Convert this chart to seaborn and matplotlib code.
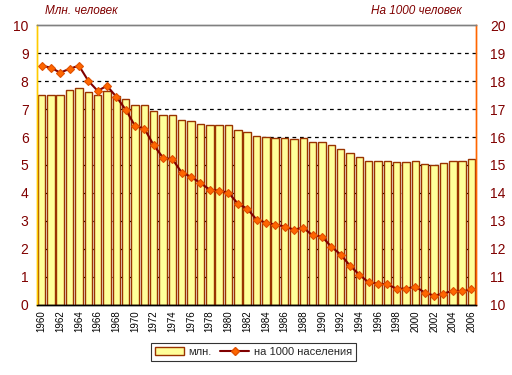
import numpy as np
import pandas as pd
import seaborn as sns
import matplotlib.pyplot as plt
from matplotlib.patches import Patch
from matplotlib.lines import Line2D

# Data
years = list(range(1960, 2007))
mln = [7.49, 7.52, 7.52, 7.67, 7.77, 7.60, 7.49, 7.63, 7.45, 7.35,
       7.13, 7.13, 6.92, 6.77, 6.77, 6.60, 6.56, 6.45, 6.42, 6.42,
       6.42, 6.24, 6.17, 6.03, 6.00, 5.96, 5.96, 5.92, 5.96, 5.84,
       5.84, 5.70, 5.56, 5.42, 5.27, 5.13, 5.13, 5.13, 5.10, 5.10,
       5.13, 5.02, 4.99, 5.06, 5.13, 5.13, 5.20]
per1000 = [18.55, 18.48, 18.30, 18.44, 18.55, 18.01, 17.65, 17.83, 17.44, 16.98,
           16.40, 16.30, 15.71, 15.26, 15.21, 14.73, 14.58, 14.35, 14.12, 14.08,
           14.01, 13.62, 13.44, 13.05, 12.94, 12.87, 12.80, 12.69, 12.76, 12.48,
           12.44, 12.08, 11.80, 11.40, 11.08, 10.80, 10.76, 10.73, 10.58, 10.58,
           10.65, 10.44, 10.33, 10.40, 10.51, 10.48, 10.55]

df = pd.DataFrame({"year": years, "mln": mln, "per1000": per1000})

sns.set_style("white")
plt.rcParams['font.family'] = ['Liberation Sans', 'DejaVu Sans']

dark_red = "#800000"
bar_fill = "#FFFF99"
bar_edge = "#993300"

fig = plt.figure(figsize=(5.12, 3.75), dpi=100)
ax = fig.add_axes([0.072, 0.187, 0.858, 0.746])

# dashed gridlines behind bars
for v in range(1, 10):
    ax.axhline(v, color="black", linestyle=(0, (3, 3)), linewidth=0.9, zorder=0)

sns.barplot(data=df, x="year", y="mln", ax=ax, color=bar_fill, saturation=1,
            edgecolor=bar_edge, linewidth=1.0, width=0.8, zorder=2)
ax.set_ylim(0, 10)
ax.set_xlim(-0.5, len(years) - 0.5)
ax.set_yticks(range(0, 11))
ax.set_xlabel("")
ax.set_ylabel("")
ax.tick_params(axis="y", colors=dark_red, labelsize=10, length=0, pad=6)
ax.set_xticks(range(0, len(years), 2))
ax.set_xticklabels([str(y) for y in years[::2]], rotation=90, fontsize=7, color="black")
ax.tick_params(axis="x", length=0, pad=4)

ax2 = ax.twinx()
sns.pointplot(data=df, x="year", y="per1000", ax=ax2, color=dark_red,
              markers="D", linewidth=1.5, markersize=4.2,
              markerfacecolor="#FF6600", markeredgecolor="#E05000",
              markeredgewidth=0.8)
ax2.set_ylim(10, 20)
ax2.set_yticks(range(10, 21))
ax2.set_xlim(-0.5, len(years) - 0.5)
ax2.set_ylabel("")
ax2.set_xlabel("")
ax2.tick_params(axis="y", colors=dark_red, labelsize=10, length=0, pad=10)

for a in (ax, ax2):
    a.spines["top"].set_color("#808080")
    a.spines["left"].set_color("#FFCC00")
    a.spines["right"].set_color("#FF6600")
    a.spines["bottom"].set_color("black")
    for s in a.spines.values():
        s.set_linewidth(1.0)

fig.text(0.088, 0.955, "Млн. человек", color=dark_red, fontsize=8.5,
         style="italic", ha="left", va="bottom")
fig.text(0.902, 0.955, "На 1000 человек", color=dark_red, fontsize=8.5,
         style="italic", ha="right", va="bottom")

handles = [Patch(facecolor=bar_fill, edgecolor=bar_edge, linewidth=1.0),
           Line2D([0], [0], color=dark_red, linewidth=1.5, marker="D", markersize=4.2,
                  markerfacecolor="#FF6600", markeredgecolor="#E05000")]
leg = fig.legend(handles, ["млн.", "на 1000 населения"], loc="center",
                 bbox_to_anchor=(0.495, 0.062), ncol=2, fontsize=8, frameon=True,
                 fancybox=False, edgecolor="black", handlelength=2.6,
                 handletextpad=0.4, columnspacing=0.8, borderpad=0.35)
leg.get_frame().set_linewidth(0.8)

fig.savefig("out.png", dpi=100)
